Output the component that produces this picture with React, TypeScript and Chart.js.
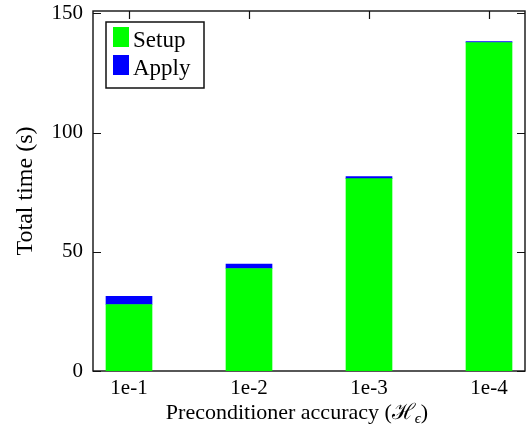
import React, { useEffect, useRef } from "react";
import { Chart, registerables } from "chart.js";

Chart.register(...registerables);

const categories = ["1e-1", "1e-2", "1e-3", "1e-4"];
const categoryPositions = [1, 2, 3, 4];
const setupTimes = [27.9, 43.0, 80.7, 137.8];
const applyTimes = [3.4, 1.8, 0.8, 0.4];
const yTickValues = [0, 50, 100, 150];
const seriesLabels = ["Setup", "Apply"];
const seriesColors = ["#00ff00", "#0000ff"];

const FONT = '"Liberation Serif", "Times New Roman", serif';

const framePlugin = {
  id: "frameTicks",
  beforeDatasetsDraw(chart: any) {
    const { ctx, chartArea, scales } = chart;
    const { left, right, top, bottom } = chartArea;
    ctx.save();
    ctx.strokeStyle = "#111";
    ctx.lineWidth = 1.4;
    ctx.strokeRect(left, top, right - left, bottom - top);
    ctx.lineWidth = 1.2;
    ctx.beginPath();
    scales.y.ticks.forEach((t: any) => {
      const py = Math.round(scales.y.getPixelForValue(t.value)) + 0.5;
      ctx.moveTo(left, py);
      ctx.lineTo(left + 8, py);
      ctx.moveTo(right, py);
      ctx.lineTo(right - 8, py);
    });
    scales.x.ticks.forEach((t: any) => {
      const px = Math.round(scales.x.getPixelForValue(t.value)) + 0.5;
      ctx.moveTo(px, top);
      ctx.lineTo(px, top + 8);
      ctx.moveTo(px, bottom);
      ctx.lineTo(px, bottom - 8);
    });
    ctx.stroke();
    ctx.restore();
  },
  afterDraw(chart: any) {
    const { ctx, chartArea } = chart;
    const { left, top } = chartArea;
    ctx.save();
    // legend
    const lx = left + 13;
    const ly = top + 11;
    ctx.strokeStyle = "#111";
    ctx.lineWidth = 1.5;
    ctx.strokeRect(lx, ly, 98, 66);
    ctx.font = `23px ${FONT}`;
    ctx.textBaseline = "alphabetic";
    ctx.textAlign = "left";
    chart.data.datasets.forEach((ds: any, i: number) => {
      ctx.fillStyle = ds.backgroundColor;
      ctx.fillRect(lx + 7, ly + 5 + i * 28, 16, 20);
      ctx.fillStyle = "#000";
      ctx.fillText(ds.label, lx + 27, ly + 25 + i * 27.5);
    });
    // x-axis title with subscript
    const mainFont = `22px ${FONT}`;
    const subFont = `italic 15px ${FONT}`;
    const part1 = "Preconditioner accuracy (";
    const partH = "\u210B";
    const partSub = "\u03F5";
    const part2 = ")";
    ctx.font = mainFont;
    const w1 = ctx.measureText(part1).width;
    const wH = ctx.measureText(partH).width;
    const w2 = ctx.measureText(part2).width;
    ctx.font = subFont;
    const wS = ctx.measureText(partSub).width;
    const total = w1 + wH + wS + w2;
    let x = 297 - total / 2;
    const base = 419;
    ctx.fillStyle = "#000";
    ctx.font = mainFont;
    ctx.fillText(part1, x, base);
    x += w1;
    ctx.fillText(partH, x, base);
    x += wH;
    ctx.font = subFont;
    ctx.fillText(partSub, x, base + 4);
    x += wS;
    ctx.font = mainFont;
    ctx.fillText(part2, x, base);
    ctx.restore();
  },
};

export default function App() {
  const canvasRef = useRef<HTMLCanvasElement | null>(null);

  useEffect(() => {
    if (!canvasRef.current) return;
    Chart.defaults.font.family = FONT;
    Chart.defaults.color = "#000";
    const chart = new Chart(canvasRef.current, {
      type: "bar",
      data: {
        datasets: [
          {
            label: seriesLabels[0],
            data: setupTimes.map((v, i) => ({ x: categoryPositions[i], y: v })),
            backgroundColor: seriesColors[0],
            borderWidth: 0,
            barThickness: 46,
          },
          {
            label: seriesLabels[1],
            data: applyTimes.map((v, i) => ({ x: categoryPositions[i], y: v })),
            backgroundColor: seriesColors[1],
            borderWidth: 0,
            barThickness: 46,
          },
        ],
      },
      options: {
        animation: false,
        responsive: true,
        maintainAspectRatio: false,
        layout: { padding: { top: 11, right: 1, left: 0, bottom: 0 } },
        plugins: {
          legend: { display: false },
          tooltip: { enabled: false },
        },
        scales: {
          x: {
            type: "linear",
            stacked: true,
            offset: false,
            min: 0.7,
            max: 4.3,
            grid: { display: false, drawTicks: false, offset: false },
            border: { display: false },
            afterBuildTicks: (scale: any) => {
              scale.ticks = categoryPositions.map((v) => ({ value: v }));
            },
            afterFit: (scale: any) => {
              scale.height = 58;
              scale.paddingLeft = 0;
              scale.paddingRight = 0;
            },
            ticks: {
              font: { size: 21 },
              color: "#000",
              padding: 5,
              maxRotation: 0,
              autoSkip: false,
              callback: (value: any) => categories[Math.round(Number(value)) - 1] ?? "",
            },
          },
          y: {
            type: "linear",
            stacked: true,
            min: 0,
            max: 151,
            grid: { display: false, drawTicks: false },
            border: { display: false },
            afterBuildTicks: (scale: any) => {
              scale.ticks = yTickValues.map((v) => ({ value: v }));
            },
            afterFit: (scale: any) => {
              scale.width = 93;
              scale.paddingTop = 0;
              scale.paddingBottom = 0;
            },
            ticks: {
              font: { size: 21 },
              color: "#000",
              padding: 10,
            },
            title: {
              display: true,
              text: "Total time (s)",
              font: { size: 24 },
              color: "#000",
              padding: { top: 11, bottom: 0 },
            },
          },
        },
      },
      plugins: [framePlugin],
    });
    return () => chart.destroy();
  }, []);

  return (
    <div style={{ position: "absolute", left: 0, top: 0, width: 526, height: 429 }}>
      <canvas ref={canvasRef} />
    </div>
  );
}
